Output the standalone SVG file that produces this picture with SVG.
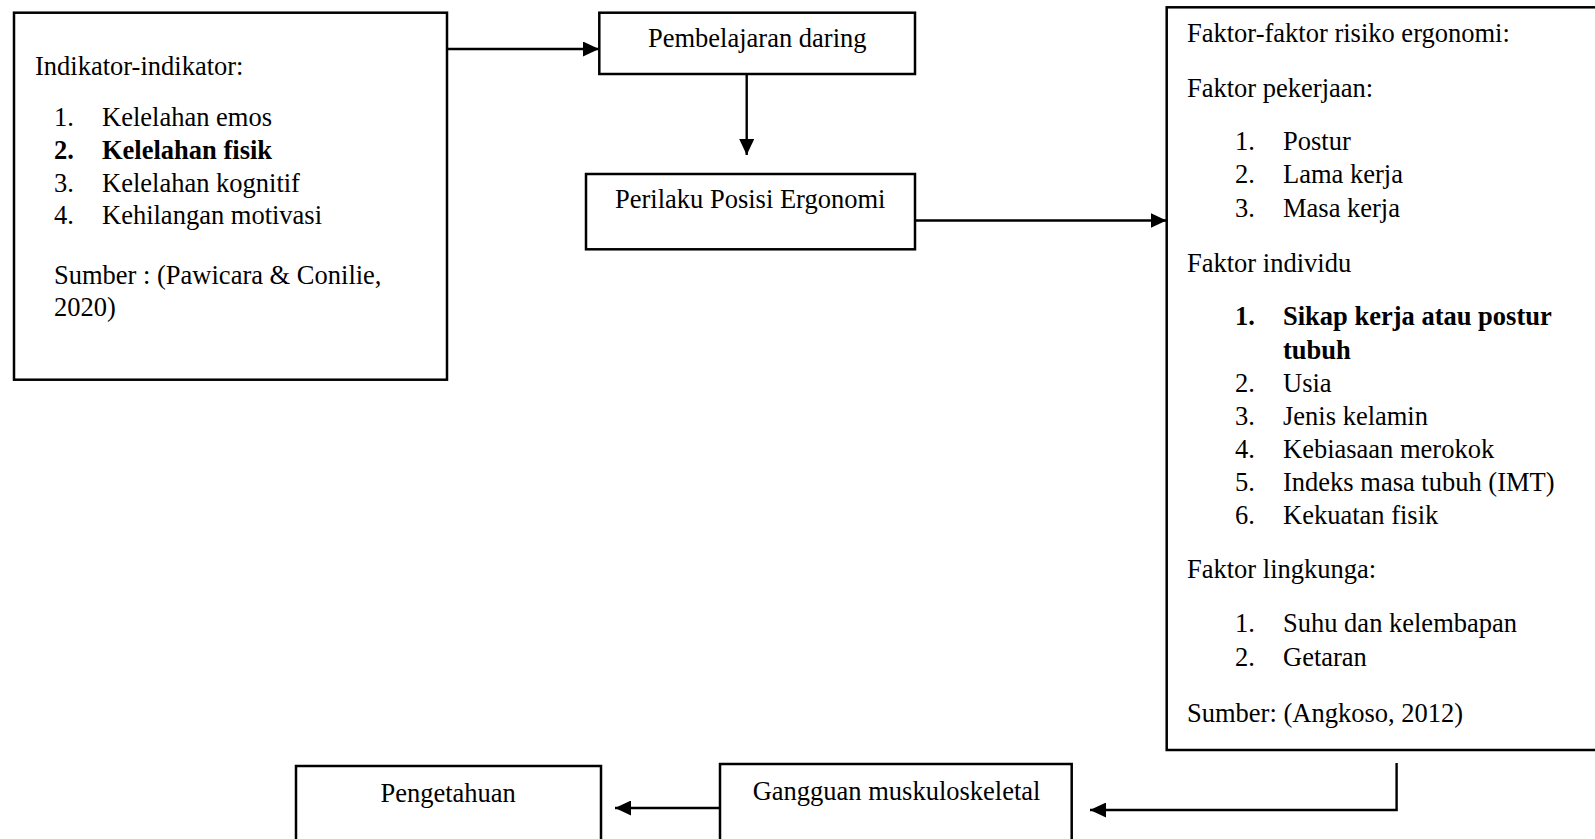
<svg xmlns="http://www.w3.org/2000/svg" width="1595" height="839" viewBox="0 0 1595 839">
<style>
.box{fill:#fff;stroke:#000;stroke-width:2.5}
.t{font-family:"Liberation Serif","Times New Roman",serif;font-size:26.5px;fill:#000}
.b{font-weight:bold}
.ln{fill:none;stroke:#000;stroke-width:2.4}
</style>
<defs>
<marker id="ah" viewBox="0 0 16 15" refX="16" refY="7.5" markerWidth="16" markerHeight="15" markerUnits="userSpaceOnUse" orient="auto">
<path d="M0,0 L16,7.5 L0,15 Z" fill="#000"/>
</marker>
</defs>
<rect width="1595" height="839" fill="#fff"/>

<g id="connectors">
<line class="ln" x1="447" y1="49" x2="599" y2="49" marker-end="url(#ah)"/>
<line class="ln" x1="746.7" y1="74" x2="746.7" y2="155" marker-end="url(#ah)"/>
<line class="ln" x1="915" y1="220.5" x2="1166.5" y2="220.5" marker-end="url(#ah)"/>
<polyline class="ln" points="1396.6,763 1396.6,810 1090,810" marker-end="url(#ah)"/>
<line class="ln" x1="720" y1="808" x2="615" y2="808" marker-end="url(#ah)"/>
</g>

<g id="indikator">
<rect class="box" x="14" y="12.7" width="433" height="367"/>
<text class="t" x="35" y="75">Indikator-indikator:</text>
<text class="t" x="54" y="126">1.</text><text class="t" x="102" y="126">Kelelahan emos</text>
<text class="t b" x="54" y="159">2.</text><text class="t b" x="102" y="159">Kelelahan fisik</text>
<text class="t" x="54" y="191.5">3.</text><text class="t" x="102" y="191.5">Kelelahan kognitif</text>
<text class="t" x="54" y="224">4.</text><text class="t" x="102" y="224">Kehilangan motivasi</text>
<text class="t" x="54" y="284">Sumber : (Pawicara &amp; Conilie,</text>
<text class="t" x="54" y="316">2020)</text>
</g>

<g id="pembelajaran">
<rect class="box" x="599.3" y="12.7" width="315.7" height="61.3"/>
<text class="t" x="648" y="47">Pembelajaran daring</text>
</g>

<g id="perilaku">
<rect class="box" x="586" y="174" width="329" height="75.3"/>
<text class="t" x="615" y="208">Perilaku Posisi Ergonomi</text>
</g>

<g id="faktor">
<rect class="box" x="1166.7" y="7.3" width="440" height="742.7"/>
<text class="t" x="1187" y="41.7">Faktor-faktor risiko ergonomi:</text>
<text class="t" x="1187" y="96.7">Faktor pekerjaan:</text>
<text class="t" x="1235" y="150">1.</text><text class="t" x="1283" y="150">Postur</text>
<text class="t" x="1235" y="183.3">2.</text><text class="t" x="1283" y="183.3">Lama kerja</text>
<text class="t" x="1235" y="216.7">3.</text><text class="t" x="1283" y="216.7">Masa kerja</text>
<text class="t" x="1187" y="271.7">Faktor individu</text>
<text class="t b" x="1235" y="325">1.</text><text class="t b" x="1283" y="325">Sikap kerja atau postur</text>
<text class="t b" x="1283" y="359">tubuh</text>
<text class="t" x="1235" y="391.7">2.</text><text class="t" x="1283" y="391.7">Usia</text>
<text class="t" x="1235" y="425">3.</text><text class="t" x="1283" y="425">Jenis kelamin</text>
<text class="t" x="1235" y="457.5">4.</text><text class="t" x="1283" y="457.5">Kebiasaan merokok</text>
<text class="t" x="1235" y="491">5.</text><text class="t" x="1283" y="491">Indeks masa tubuh (IMT)</text>
<text class="t" x="1235" y="524">6.</text><text class="t" x="1283" y="524">Kekuatan fisik</text>
<text class="t" x="1187" y="578.3">Faktor lingkunga:</text>
<text class="t" x="1235" y="631.7">1.</text><text class="t" x="1283" y="631.7">Suhu dan kelembapan</text>
<text class="t" x="1235" y="666">2.</text><text class="t" x="1283" y="666">Getaran</text>
<text class="t" x="1187" y="721.7">Sumber: (Angkoso, 2012)</text>
</g>

<g id="gangguan">
<rect class="box" x="720" y="764" width="351.7" height="100"/>
<text class="t" x="752.7" y="800">Gangguan muskuloskeletal</text>
</g>

<g id="pengetahuan">
<rect class="box" x="296" y="766" width="305" height="100"/>
<text class="t" x="380.4" y="802">Pengetahuan</text>
</g>
</svg>
